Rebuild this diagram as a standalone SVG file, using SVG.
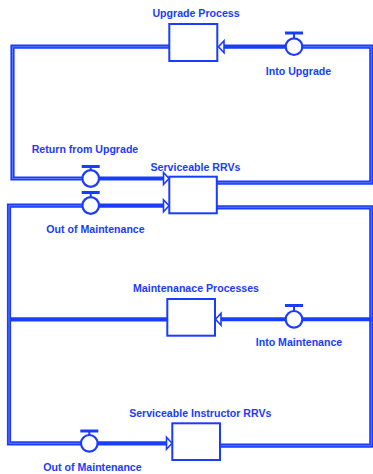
<svg xmlns="http://www.w3.org/2000/svg" width="373" height="474" viewBox="0 0 373 474">
<style>
.pipe{fill:none;stroke:#1a3cff;stroke-width:4.2;stroke-linejoin:miter}
.core{fill:none;stroke:#5f78ff;stroke-width:1}
.flow{fill:none;stroke:#1a3cff;stroke-width:4}
.stock{fill:#fff;stroke:#1a3cff;stroke-width:2}
.valve{fill:#fff;stroke:#1a3cff;stroke-width:2.2}
.bar{stroke:#1a3cff;stroke-width:3}
.stem{stroke:#1a3cff;stroke-width:2}
.arr{fill:#fff;stroke:#1a3cff;stroke-width:1.6;stroke-linejoin:miter}
text{font-family:"Liberation Sans",Arial,sans-serif;font-weight:bold;font-size:10.6px;fill:#1a3cff;text-anchor:middle}
</style>
<rect width="373" height="474" fill="#fff"/>
<g id="connectors">
  <path class="pipe" d="M169,46.7 H12.5 V178.5 H165"/>
  <path class="core" d="M169,46.7 H12.5 V178.5 H82"/>
  <path class="pipe" d="M217,182.7 H371.3 V46.7 H224"/>
  <path class="core" d="M217,182.7 H371.3 V46.7 H303"/>
  <path class="pipe" d="M217,207.3 H371.3 V445.7 H220"/>
  <path class="core" d="M217,207.3 H371.3 V445.7 H220"/>
  <path class="flow" d="M371.3,319.3 H221"/>
  <path class="pipe" d="M167.3,319.3 H9"/>
  <path class="pipe" d="M165,205.7 H9 V443.3 H167"/>
  <path class="core" d="M82,205.7 H9 V443.3 H80"/>
  <polygon class="arr" points="163.5,172.5 169,178.5 163.5,184.5"/>
  <polygon class="arr" points="163.5,199.7 169,205.7 163.5,211.7"/>
  <polygon class="arr" points="224,40.7 218.5,46.7 224,52.7"/>
  <polygon class="arr" points="221,313.3 215.5,319.3 221,325.3"/>
  <polygon class="arr" points="166.5,437.3 172,443.3 166.5,449.3"/>
</g>
<g id="upgrade-process">
  <rect class="stock" x="169.3" y="24" width="48" height="37"/>
  <text x="196" y="17">Upgrade Process</text>
</g>
<g id="into-upgrade">
  <line class="stem" x1="294" y1="34" x2="294" y2="39"/>
  <line class="bar" x1="285" y1="33" x2="303" y2="33"/>
  <circle class="valve" cx="294" cy="46.7" r="8.3"/>
  <text x="298.5" y="74.5">Into Upgrade</text>
</g>
<g id="return-from-upgrade">
  <line class="stem" x1="90.7" y1="166" x2="90.7" y2="171"/>
  <line class="bar" x1="81.7" y1="166.5" x2="99.7" y2="166.5"/>
  <circle class="valve" cx="90.7" cy="178.5" r="8.3"/>
  <text x="85" y="152.5">Return from Upgrade</text>
</g>
<g id="serviceable-rrvs">
  <rect class="stock" x="169.3" y="176.7" width="47.5" height="36.6"/>
  <text x="195.5" y="170.5">Serviceable RRVs</text>
</g>
<g id="out-of-maintenance-1">
  <line class="stem" x1="90.7" y1="193" x2="90.7" y2="198"/>
  <line class="bar" x1="81.7" y1="192.5" x2="99.7" y2="192.5"/>
  <circle class="valve" cx="90.7" cy="205.5" r="8.3"/>
  <text x="95.5" y="232.5">Out of Maintenance</text>
</g>
<g id="maintenance-processes">
  <rect class="stock" x="167.3" y="299" width="47.7" height="36.7"/>
  <text x="196" y="292">Maintenanace Processes</text>
</g>
<g id="into-maintenance">
  <line class="stem" x1="294" y1="306" x2="294" y2="311.5"/>
  <line class="bar" x1="285" y1="305.5" x2="303" y2="305.5"/>
  <circle class="valve" cx="294" cy="319.3" r="8.3"/>
  <text x="299" y="346">Into Maintenance</text>
</g>
<g id="serviceable-instructor-rrvs">
  <rect class="stock" x="172.3" y="423.3" width="47.7" height="36.7"/>
  <text x="200.3" y="417">Serviceable Instructor RRVs</text>
</g>
<g id="out-of-maintenance-2">
  <line class="stem" x1="89.3" y1="431" x2="89.3" y2="436"/>
  <line class="bar" x1="80.3" y1="431" x2="98.3" y2="431"/>
  <circle class="valve" cx="89.3" cy="443.3" r="8.3"/>
  <text x="92.5" y="470.5">Out of Maintenance</text>
</g>
</svg>
